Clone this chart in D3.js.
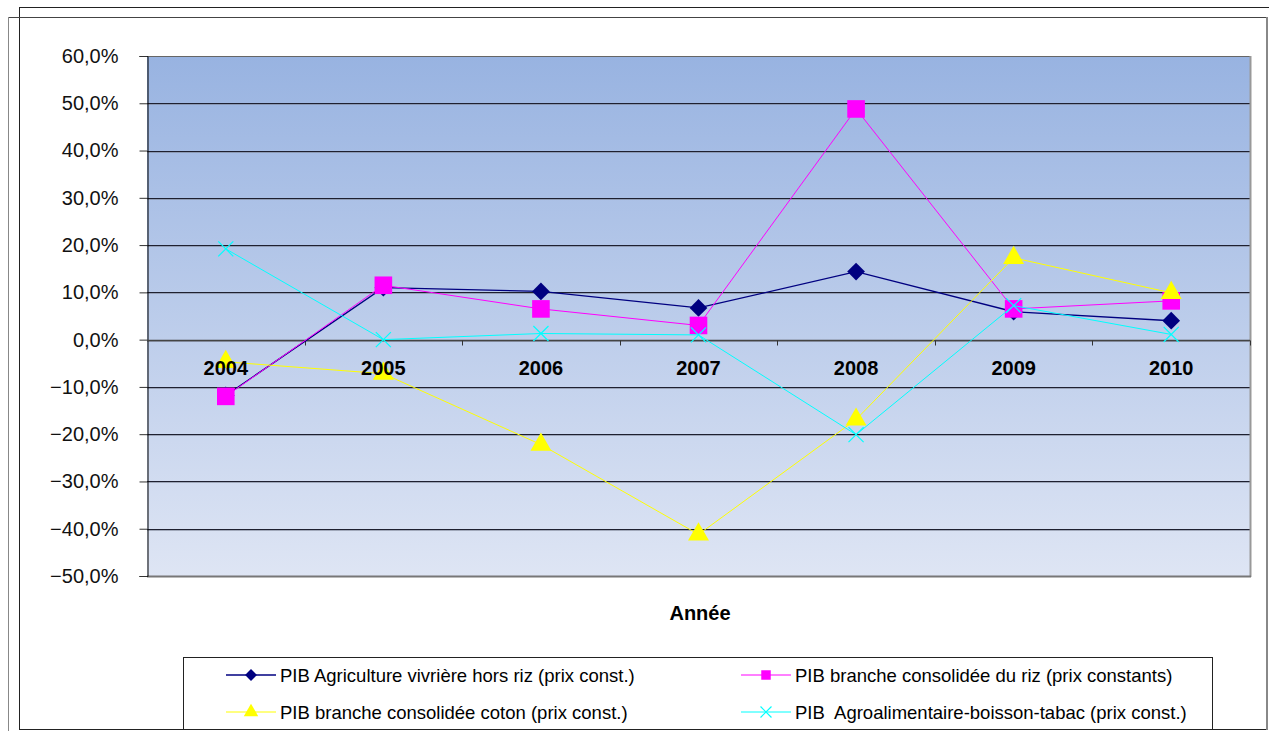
<!DOCTYPE html>
<html>
<head>
<meta charset="utf-8">
<title>PIB</title>
<script src="https://cdn.jsdelivr.net/npm/d3@7"></script>
<style>
  body { margin: 0; background: #fff; }
  text { font-family: Arial, "Liberation Sans", sans-serif; }
</style>
</head>
<body>
<svg id="chart" width="1269" height="731"></svg>
<script>
// data
var years = ["2004", "2005", "2006", "2007", "2008", "2009", "2010"];
var vivriere = [-0.118, 0.110, 0.102, 0.067, 0.144, 0.059, 0.040];
var riz = [-0.120, 0.115, 0.065, 0.030, 0.488, 0.065, 0.082];
var coton = [-0.047, -0.072, -0.222, -0.412, -0.169, 0.173, 0.099];
var agro = [0.192, 0.000, 0.013, 0.010, -0.201, 0.072, 0.011];
var yTicks = [-0.5, -0.4, -0.3, -0.2, -0.1, 0, 0.1, 0.2, 0.3, 0.4, 0.5, 0.6];

var seriesList = [
  {name: "PIB Agriculture vivrière hors riz (prix const.)", values: vivriere, color: "#000080", marker: "diamond", width: 1.3},
  {name: "PIB branche consolidée du riz (prix constants)", values: riz, color: "#ff00ff", marker: "square", width: 1},
  {name: "PIB branche consolidée coton (prix const.)", values: coton, color: "#ffff00", marker: "triangle", width: 1},
  {name: "PIB  Agroalimentaire-boisson-tabac (prix const.)", values: agro, color: "#00ffff", marker: "cross", width: 1}
];

var svg = d3.select("#chart");
var plot = {left: 147, top: 56, right: 1250, bottom: 576};

var fr = d3.formatLocale({decimal: ",", thousands: " ", grouping: [3], currency: ["", "€"]});
var pct = fr.format(".1%");

var x = d3.scaleBand().domain(years).range([plot.left, plot.right]).padding(0);
var y = d3.scaleLinear().domain([-0.5, 0.6]).range([plot.bottom, plot.top]);

// frame lines around the chart
var frame = [
  [19, 7.5, 1269, 7.5, "#222", 1],
  [19.5, 7, 19.5, 730, "#222", 1],
  [8, 17.5, 1267, 17.5, "#444", 1],
  [8.5, 17, 8.5, 731, "#888", 1],
  [19, 729.5, 1267, 729.5, "#222", 1],
  [1267, 17, 1267, 730, "#888", 2]
];
frame.forEach(function(f) {
  svg.append("line").attr("x1", f[0]).attr("y1", f[1]).attr("x2", f[2]).attr("y2", f[3])
    .attr("stroke", f[4]).attr("stroke-width", f[5]);
});

// plot background gradient
var grad = svg.append("defs").append("linearGradient").attr("id", "bg")
  .attr("x1", 0).attr("y1", 0).attr("x2", 0).attr("y2", 1);
grad.append("stop").attr("offset", "0%").attr("stop-color", "#98b3e1");
grad.append("stop").attr("offset", "100%").attr("stop-color", "#dee5f4");

svg.append("rect").attr("x", plot.left).attr("y", plot.top)
  .attr("width", plot.right - plot.left).attr("height", plot.bottom - plot.top)
  .attr("fill", "url(#bg)");

// gridlines
var inner = yTicks.filter(function(d) { return d !== 0.6 && d !== -0.5; });
var grid = svg.append("g");
grid.selectAll("line.g1").data(inner)
  .enter().append("line").attr("class", "g1")
  .attr("x1", plot.left).attr("x2", plot.right)
  .attr("y1", function(d) { return Math.round(y(d)) + 0.5; })
  .attr("y2", function(d) { return Math.round(y(d)) + 0.5; })
  .attr("stroke", "#1e2030").attr("stroke-width", 1);
grid.selectAll("line.g2").data(inner)
  .enter().append("line").attr("class", "g2")
  .attr("x1", plot.left).attr("x2", plot.right)
  .attr("y1", function(d) { return Math.round(y(d)) + 1.5; })
  .attr("y2", function(d) { return Math.round(y(d)) + 1.5; })
  .attr("stroke", "#7d8496").attr("stroke-width", 1).attr("opacity", 0.6);

// plot border: top gray, right and bottom shadow
svg.append("line").attr("x1", plot.left).attr("x2", plot.right).attr("y1", plot.top + 0.5).attr("y2", plot.top + 0.5)
  .attr("stroke", "#666");
svg.append("line").attr("x1", plot.right + 0.5).attr("x2", plot.right + 0.5).attr("y1", plot.top).attr("y2", plot.bottom + 1)
  .attr("stroke", "#999").attr("stroke-width", 2);
svg.append("line").attr("x1", plot.left).attr("x2", plot.right + 1).attr("y1", plot.bottom + 0.5).attr("y2", plot.bottom + 0.5)
  .attr("stroke", "#777").attr("stroke-width", 2);

// y axis
var yAxis = d3.axisLeft(y).tickValues(yTicks).tickSize(8).tickFormat(pct);
var gy = svg.append("g").attr("transform", "translate(" + (plot.left + 0.5) + ",0)").call(yAxis);
gy.select(".domain").attr("stroke", "#000");
gy.selectAll(".tick line").attr("stroke", "#333");
gy.selectAll(".tick text").attr("x", -29).attr("font-size", 20).attr("fill", "#111")
  .attr("font-family", "Arial, 'Liberation Sans', sans-serif");

// zero axis with ticks at category boundaries
var y0 = Math.round(y(0)) + 0.5;
svg.append("line").attr("x1", plot.left).attr("x2", plot.right).attr("y1", y0).attr("y2", y0)
  .attr("stroke", "#444").attr("stroke-width", 1.5);
var bounds = years.map(function(d) { return x(d); }).concat([plot.right]).slice(1);
svg.selectAll("line.xt").data(bounds).enter().append("line").attr("class", "xt")
  .attr("x1", function(d) { return Math.round(d) + 0.5; })
  .attr("x2", function(d) { return Math.round(d) + 0.5; })
  .attr("y1", y0).attr("y2", y0 + 5).attr("stroke", "#333");

// series
var symbolType = {
  diamond: d3.symbolDiamond2, square: d3.symbolSquare,
  triangle: d3.symbolTriangle, cross: d3.symbolX
};
var symbolSize = {diamond: 200, square: 310, triangle: 190, cross: 150};
var cx = function(i) { return x(years[i]) + x.bandwidth() / 2; };
var line = d3.line().x(function(d, i) { return cx(i); }).y(function(d) { return y(d); });

function drawMarker(g, s, px, py, size) {
  var p = g.append("path").attr("d", d3.symbol().type(symbolType[s.marker]).size(size))
    .attr("transform", "translate(" + px + "," + py + ")");
  if (s.marker === "cross") {
    p.attr("fill", "none").attr("stroke", s.color).attr("stroke-width", 1.2);
  } else {
    p.attr("fill", s.color).attr("stroke", "none");
  }
}

seriesList.forEach(function(s) {
  var g = svg.append("g");
  g.append("path").datum(s.values).attr("d", line)
    .attr("fill", "none").attr("stroke", s.color).attr("stroke-width", s.width);
  s.values.forEach(function(v, i) { drawMarker(g, s, cx(i), y(v), symbolSize[s.marker]); });
});

// category labels (drawn above the marks)
svg.selectAll("text.yr").data(years).enter().append("text").attr("class", "yr")
  .attr("x", function(d) { return x(d) + x.bandwidth() / 2; })
  .attr("y", y0 + 34)
  .attr("text-anchor", "middle").attr("font-size", 20).attr("font-weight", "bold")
  .attr("fill", "#000").text(function(d) { return d; });

// axis title
svg.append("text").attr("x", 700).attr("y", 620).attr("text-anchor", "middle")
  .attr("font-size", 20).attr("font-weight", "bold").text("Année");

// legend
svg.append("rect").attr("x", 183.5).attr("y", 657.5).attr("width", 1029).attr("height", 72)
  .attr("fill", "#fff").attr("stroke", "#222");
var legPos = [[226, 675], [741, 675], [226, 712], [741, 712]];
seriesList.forEach(function(s, i) {
  var lx = legPos[i][0], ly = legPos[i][1];
  var g = svg.append("g");
  g.append("line").attr("x1", lx).attr("x2", lx + 50).attr("y1", ly).attr("y2", ly)
    .attr("stroke", s.color).attr("stroke-width", s.width);
  drawMarker(g, s, lx + 25, ly, s.marker === "cross" ? 80 : 90);
  g.append("text").attr("x", lx + 54).attr("y", ly + 6.5).attr("font-size", 18.5)
    .attr("fill", "#000").style("white-space", "pre").text(s.name);
});
</script>
</body>
</html>
